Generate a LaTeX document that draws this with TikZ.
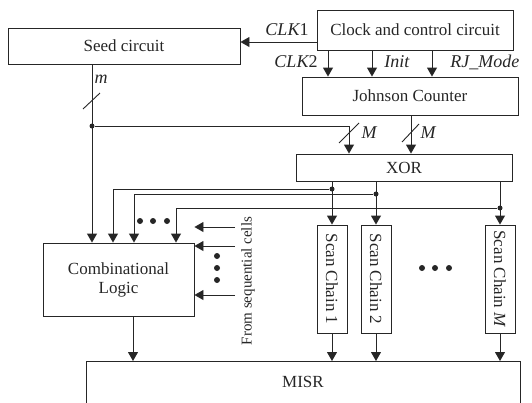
\documentclass[tikz,border=0pt]{standalone}
\usepackage{fontspec}
\setmainfont{Liberation Serif}
\usetikzlibrary{arrows.meta, positioning}
\tikzset{
  blkfont/.style = {font=\fontsize{17}{19}\selectfont},
  blk/.style     = {draw, line width=0.9pt, inner sep=0pt, align=center, blkfont},
  chain/.style   = {blk, minimum width=30pt, minimum height=108pt},
  sig/.style     = {-{Triangle[length=9pt,width=10pt]}, line width=0.9pt},
  jdot/.style    = {circle, fill, inner sep=0pt, minimum size=5pt},
  edot/.style    = {circle, fill, inner sep=0pt, minimum size=6pt},
  lbl/.style     = {font=\fontsize{18}{20}\selectfont\itshape, inner sep=1pt},
}

\begin{document}
\begin{tikzpicture}[x=1pt, y=-1pt, line width=0.9pt, color=black!85]
\clip (0,0) rectangle (532,402);

% ---- blocks ----------------------------------------------------------------
\node[blk, minimum width=232pt, minimum height=36pt] (seed)  at (124,46)    {Seed circuit};
\node[blk, minimum width=196pt, minimum height=40pt] (clock) at (415,30)    {Clock and control circuit};
\node[blk, minimum width=216pt, minimum height=38pt] (jc)    at (410,96)    {Johnson Counter};
\node[blk, minimum width=216pt, minimum height=27pt] (xor)   at (404,167.5) {XOR};
\node[blk, minimum width=151pt, minimum height=73pt] (comb)  at (118.5,279.5) {Combinational\\Logic};
\node[chain, label={[rotate=-90, blkfont]center:Scan Chain 1}]      (sc1) at (332,279) {};
\node[chain, label={[rotate=-90, blkfont]center:Scan Chain 2}]      (sc2) at (376,279) {};
\node[chain, label={[rotate=-90, blkfont]center:Scan Chain \textit{M}}] (scM) at (500,279) {};
\node[blk, anchor=north, minimum width=434pt, minimum height=60pt] (misr) at (303,361) {};
\node[blkfont] (misrlbl) at (303,382) {MISR};

% ---- clock and control signals --------------------------------------------
\coordinate (clk1) at (317,42);
\draw[sig] (clk1) -- (clk1 -| seed.east);
\node[lbl] (clk1lbl) at (287,30) {CLK\upshape 1};
\foreach \x in {328,372,432}
  \draw[sig] (\x,0 |- clock.south) -- (\x,0 |- jc.north);
\node[lbl] (clk2lbl) at (296,62) {CLK\upshape 2};
\node[lbl, anchor=west] (initlbl) at (383,62) {Init};
\node[lbl, anchor=west] (rjlbl)   at (449,62) {RJ\_Mode};

% ---- seed bus (m) and Johnson bus (M) --------------------------------------
\draw[sig] (seed.south -| 92,0) -- (comb.north -| 92,0);
\draw (83,109) -- (100,93);
\node[lbl] (mlbl) at (101,79) {m};
\node[jdot] (j0) at (92,126) {};
\draw[sig] (j0) -| (xor.north -| 349,0);
\draw (339,143) -- (359,123);
\node[lbl] (m1lbl) at (369,133) {M};
\draw[sig] (jc.south -| 411,0) -- (xor.north -| 411,0);
\draw (402,142) -- (419,124);
\node[lbl] (m2lbl) at (428,133) {M};

% ---- XOR outputs to scan chains and combinational logic -------------------
\foreach \c/\y/\x in {sc1/189/113, sc2/194/134, scM/208/176} {
  \draw[sig] (xor.south -| \c.north) -- (\c.north);
  \node[jdot] (j\c) at (\c.north |- 0,\y) {};
  \draw[sig] (j\c) -| (comb.north -| \x,0);
}
\foreach \x in {140,153,167}
  \node[edot] (hd\x) at (\x,221) {};

% ---- inputs from sequential cells ------------------------------------------
\foreach \y in {227,246,295}
  \draw[sig] (235,\y) -- (comb.east |- 0,\y);
\foreach \y in {256,268,280}
  \node[edot] (vd\y) at (217,\y) {};
\node[rotate=90, font=\fontsize{15}{17}\selectfont] (seqlbl) at (248,281) {From sequential cells};
\foreach \x in {422,435,449}
  \node[edot] (cd\x) at (\x,268) {};

% ---- into MISR ---------------------------------------------------------------
\draw[sig] (comb.south -| 133,0) -- (misr.north -| 133,0);
\foreach \c in {sc1,sc2,scM}
  \draw[sig] (\c.south) -- (misr.north -| \c.south);

\end{tikzpicture}
\end{document}
